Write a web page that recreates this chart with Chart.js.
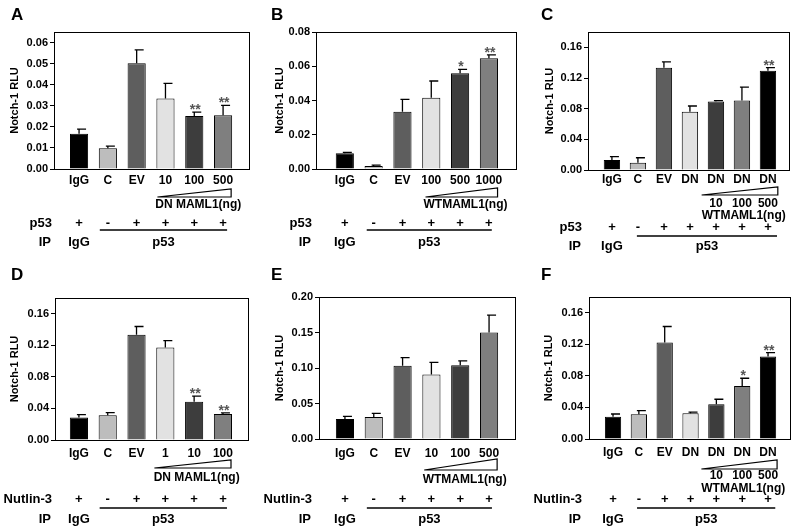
<!DOCTYPE html>
<html>
<head>
<meta charset="utf-8">
<script src="https://cdn.jsdelivr.net/npm/chart.js@4.4.1/dist/chart.umd.min.js"></script>
<style>
  html, body { margin: 0; padding: 0; background: #fff; }
  #figure { position: relative; width: 800px; height: 531px; overflow: hidden; }
  #figure canvas { position: absolute; }
</style>
</head>
<body>
<div id="figure">
  <canvas id="panelA"></canvas>
  <canvas id="panelB"></canvas>
  <canvas id="panelC"></canvas>
  <canvas id="panelD"></canvas>
  <canvas id="panelE"></canvas>
  <canvas id="panelF"></canvas>
</div>
<script>
// ---- data ----
const labelsA = ['IgG', 'C', 'EV', '10', '100', '500'];
const valuesA = [0.0167, 0.0098, 0.0502, 0.0335, 0.0251, 0.0255];
const errorsA = [0.0022, 0.0011, 0.0063, 0.0071, 0.0019, 0.0047];
const starsA = ['', '', '', '', '**', '**'];

const labelsB = ['IgG', 'C', 'EV', '100', '500', '1000'];
const valuesB = [0.0092, 0.0018, 0.0335, 0.0416, 0.0559, 0.0646];
const errorsB = [0.0005, 0.0005, 0.0072, 0.0098, 0.0023, 0.002];
const starsB = ['', '', '', '', '*', '**'];

const labelsC = ['IgG', 'C', 'EV', 'DN', 'DN', 'DN', 'DN'];
const valuesC = [0.013, 0.0095, 0.1335, 0.076, 0.0895, 0.0905, 0.1295];
const errorsC = [0.0045, 0.0065, 0.0075, 0.0075, 0.001, 0.0175, 0.004];
const starsC = ['', '', '', '', '', '', '**'];

const labelsD = ['IgG', 'C', 'EV', '1', '10', '100'];
const valuesD = [0.0285, 0.0315, 0.1333, 0.1172, 0.0485, 0.033];
const errorsD = [0.0037, 0.0033, 0.0106, 0.0088, 0.0072, 0.0013];
const starsD = ['', '', '', '', '**', '**'];

const labelsE = ['IgG', 'C', 'EV', '10', '100', '500'];
const valuesE = [0.028, 0.031, 0.103, 0.091, 0.104, 0.15];
const errorsE = [0.004, 0.005, 0.0115, 0.017, 0.006, 0.0246];
const starsE = ['', '', '', '', '', ''];

const labelsF = ['IgG', 'C', 'EV', 'DN', 'DN', 'DN', 'DN'];
const valuesF = [0.0283, 0.0314, 0.1223, 0.0326, 0.044, 0.0673, 0.1045];
const errorsF = [0.0034, 0.0046, 0.0203, 0.0014, 0.0064, 0.0097, 0.0051];
const starsF = ['', '', '', '', '', '*', '**'];

const ticksA = [0, 0.01, 0.02, 0.03, 0.04, 0.05, 0.06];
const ticksB = [0, 0.02, 0.04, 0.06, 0.08];
const ticksCDF = [0, 0.04, 0.08, 0.12, 0.16];
const ticksE = [0, 0.05, 0.10, 0.15, 0.20];

const signs6 = ['+', '-', '+', '+', '+', '+'];
const signs7 = ['+', '-', '+', '+', '+', '+', '+'];
const doses = ['10', '100', '500'];

// ---- styles ----
const FONT = '"Liberation Sans", Arial, sans-serif';
const shades6 = ['#000000', '#bdbdbd', '#5e5e5e', '#e2e2e2', '#3d3d3d', '#7f7f7f'];
const shades7 = ['#000000', '#bdbdbd', '#5e5e5e', '#e2e2e2', '#3d3d3d', '#7f7f7f', '#000000'];
const X_AXIS_H = 30;

Chart.defaults.font.family = FONT;
Chart.defaults.font.weight = 'bold';
Chart.defaults.color = '#000';

function makePanel(canvasId, p) {
  const canvas = document.getElementById(canvasId);
  canvas.width = p.w;
  canvas.height = p.h;
  canvas.style.left = p.left + 'px';
  canvas.style.top = p.top + 'px';
  canvas.style.width = p.w + 'px';
  canvas.style.height = p.h + 'px';

  const extras = {
    id: 'extras',
    afterDatasetsDraw(chart) {
      const ctx = chart.ctx;
      const ys = chart.scales.y;
      const bars = chart.getDatasetMeta(0).data;
      ctx.save();
      ctx.strokeStyle = '#000';
      ctx.lineWidth = 1.3;
      bars.forEach((bar, i) => {
        const top = ys.getPixelForValue(p.values[i] + p.errors[i]);
        ctx.beginPath();
        ctx.moveTo(bar.x, bar.y);
        ctx.lineTo(bar.x, top);
        ctx.moveTo(bar.x - 2, top);
        ctx.lineTo(bar.x + 7, top);
        ctx.stroke();
        if (p.stars[i]) {
          ctx.fillStyle = '#555';
          ctx.font = 'bold 14px ' + FONT;
          ctx.textAlign = 'center';
          ctx.textBaseline = 'alphabetic';
          ctx.fillText(p.stars[i], bar.x + 1, top + 2);
        }
      });
      ctx.restore();
    },
    afterDraw(chart) {
      const ctx = chart.ctx;
      const ca = chart.chartArea;
      const xs = chart.scales.x;
      ctx.save();
      // plot frame
      ctx.strokeStyle = '#000';
      ctx.lineWidth = 1;
      ctx.strokeRect(Math.round(ca.left) + 0.5, Math.round(ca.top) + 0.5,
        Math.round(ca.right - ca.left), Math.round(ca.bottom - ca.top));

      ctx.fillStyle = '#000';
      // panel letter
      ctx.font = 'bold 17px ' + FONT;
      ctx.textAlign = 'left';
      ctx.textBaseline = 'middle';
      ctx.fillText(p.letter, 11, 15);

      // dose wedge
      const wl = xs.getPixelForValue(p.wedge[0]);
      const wr = xs.getPixelForValue(p.wedge[1]);
      ctx.lineWidth = 1.2;
      ctx.beginPath();
      ctx.moveTo(wl, p.wedgeY[1]);
      ctx.lineTo(wr, p.wedgeY[0]);
      ctx.lineTo(wr, p.wedgeY[1]);
      ctx.closePath();
      ctx.stroke();

      ctx.font = 'bold 12px ' + FONT;
      ctx.textAlign = 'center';
      if (p.doseY) {
        doses.forEach((d, k) => {
          ctx.fillText(d, xs.getPixelForValue(p.labels.length - 3 + k), p.doseY);
        });
      }
      ctx.fillText(p.wedgeText, (wl + wr) / 2 + 4, p.wedgeTextY);

      // treatment rows
      ctx.font = 'bold 13px ' + FONT;
      ctx.textAlign = 'right';
      ctx.fillText(p.rowLabel, 52, p.rowY);
      ctx.fillText('IP', 51, p.ipY);
      ctx.textAlign = 'center';
      p.signs.forEach((s, i) => {
        ctx.fillText(s, xs.getPixelForValue(i), p.rowY);
      });
      ctx.fillText('IgG', xs.getPixelForValue(0), p.ipY);
      const l0 = xs.getPixelForValue(p.line[0]);
      const l1 = xs.getPixelForValue(p.line[1]);
      ctx.lineWidth = 1.5;
      ctx.beginPath();
      ctx.moveTo(l0, p.lineY);
      ctx.lineTo(l1, p.lineY);
      ctx.stroke();
      ctx.fillText('p53', (l0 + l1) / 2, p.ipY);
      ctx.restore();
    }
  };

  return new Chart(canvas, {
    type: 'bar',
    data: {
      datasets: [{
        data: p.values.map((v, i) => ({ x: i, y: v })),
        backgroundColor: p.colors,
        borderColor: '#000',
        borderWidth: 1,
        barPercentage: 0.63,
        categoryPercentage: 1
      }]
    },
    options: {
      responsive: false,
      animation: false,
      layout: {
        padding: { left: 0, top: p.plot[1], right: p.w - p.plot[2], bottom: p.h - p.plot[3] - X_AXIS_H }
      },
      plugins: { legend: { display: false }, tooltip: { enabled: false } },
      scales: {
        x: {
          type: 'linear',
          offset: false,
          min: p.xRange[0],
          max: p.xRange[1],
          afterBuildTicks: axis => { axis.ticks = p.labels.map((l, i) => ({ value: i })); },
          afterFit: axis => { axis.height = X_AXIS_H; },
          grid: { display: false, drawTicks: false },
          border: { display: true, color: '#000' },
          ticks: {
            autoSkip: false,
            maxRotation: 0,
            padding: p.xPad,
            font: { size: 12, weight: 'bold' },
            callback: (v, i) => p.labels[i]
          }
        },
        y: {
          min: 0,
          max: p.yMax,
          afterBuildTicks: axis => { axis.ticks = p.yTicks.map(v => ({ value: v })); },
          afterFit: axis => { axis.width = p.plot[0]; },
          grid: { display: true, drawOnChartArea: false, drawTicks: true, tickLength: 4, color: '#000' },
          border: { display: true, color: '#000' },
          ticks: {
            padding: 2,
            font: { size: 11, weight: 'bold' },
            callback: v => v.toFixed(2)
          },
          title: {
            display: true,
            text: 'Notch-1 RLU',
            font: { size: 11, weight: 'bold' },
            padding: { top: p.titleX - 6.6, bottom: 0 }
          }
        }
      }
    },
    plugins: [extras]
  });
}

makePanel('panelA', {
  letter: 'A', left: 0, top: 0, w: 260, h: 260, plot: [54, 32, 249, 169],
  xRange: [-0.87, 5.9], yMax: 0.065, yTicks: ticksA, xPad: 4, titleX: 15,
  labels: labelsA, values: valuesA, errors: errorsA, stars: starsA, colors: shades6,
  wedge: [2.72, 5.28], wedgeY: [189, 197], wedgeText: 'DN MAML1(ng)', wedgeTextY: 205,
  rowLabel: 'p53', signs: signs6, rowY: 223, line: [0.72, 5.14], lineY: 230, ipY: 242
});

makePanel('panelB', {
  letter: 'B', left: 260, top: 0, w: 270, h: 260, plot: [56, 32, 256, 169],
  xRange: [-1.0, 5.94], yMax: 0.08, yTicks: ticksB, xPad: 4, titleX: 20,
  labels: labelsB, values: valuesB, errors: errorsB, stars: starsB, colors: shades6,
  wedge: [2.8, 5.3], wedgeY: [188, 197], wedgeText: 'WTMAML1(ng)', wedgeTextY: 205,
  rowLabel: 'p53', signs: signs6, rowY: 223, line: [0.76, 5.1], lineY: 230, ipY: 242
});

makePanel('panelC', {
  letter: 'C', left: 530, top: 0, w: 270, h: 260, plot: [58, 32, 259, 170],
  xRange: [-0.92, 6.81], yMax: 0.18, yTicks: ticksCDF, xPad: 2, titleX: 20,
  labels: labelsC, values: valuesC, errors: errorsC, stars: starsC, colors: shades7,
  wedge: [3.45, 6.38], wedgeY: [187, 195], doseY: 204, wedgeText: 'WTMAML1(ng)', wedgeTextY: 216,
  rowLabel: 'p53', signs: signs7, rowY: 227, line: [0.96, 6.35], lineY: 236, ipY: 246
});

makePanel('panelD', {
  letter: 'D', left: 0, top: 260, w: 260, h: 271, plot: [55, 38, 248, 180],
  xRange: [-0.83, 5.87], yMax: 0.18, yTicks: ticksCDF, xPad: 6, titleX: 15,
  labels: labelsD, values: valuesD, errors: errorsD, stars: starsD, colors: shades6,
  wedge: [2.62, 5.28], wedgeY: [200, 208], wedgeText: 'DN MAML1(ng)', wedgeTextY: 218,
  rowLabel: 'Nutlin-3', signs: signs6, rowY: 239, line: [0.72, 5.14], lineY: 248, ipY: 259
});

makePanel('panelE', {
  letter: 'E', left: 260, top: 260, w: 270, h: 271, plot: [59, 37, 255, 179],
  xRange: [-0.9, 5.9], yMax: 0.20, yTicks: ticksE, xPad: 7, titleX: 20,
  labels: labelsE, values: valuesE, errors: errorsE, stars: starsE, colors: shades6,
  wedge: [2.75, 5.28], wedgeY: [199, 210], wedgeText: 'WTMAML1(ng)', wedgeTextY: 220,
  rowLabel: 'Nutlin-3', signs: signs6, rowY: 239, line: [0.76, 5.1], lineY: 248, ipY: 259
});

makePanel('panelF', {
  letter: 'F', left: 530, top: 260, w: 270, h: 271, plot: [59, 37, 260, 179],
  xRange: [-0.93, 6.85], yMax: 0.18, yTicks: ticksCDF, xPad: 6, titleX: 19,
  labels: labelsF, values: valuesF, errors: errorsF, stars: starsF, colors: shades7,
  wedge: [3.42, 6.35], wedgeY: [200, 209], doseY: 216, wedgeText: 'WTMAML1(ng)', wedgeTextY: 229,
  rowLabel: 'Nutlin-3', signs: signs7, rowY: 239, line: [0.93, 6.28], lineY: 248, ipY: 259
});
</script>
</body>
</html>
